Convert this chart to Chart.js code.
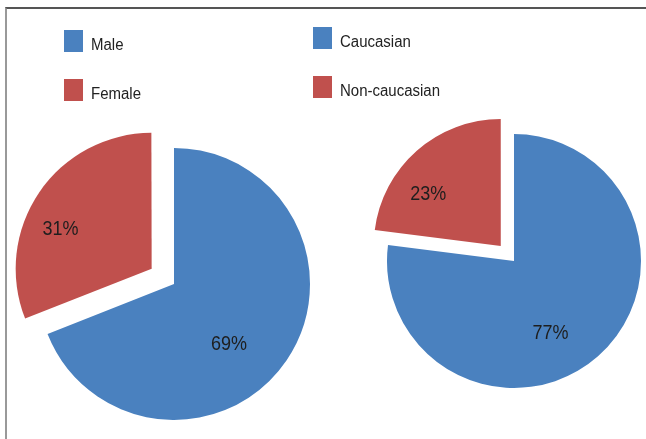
<!DOCTYPE html>
<html>
<head>
<meta charset="utf-8">
<script src="https://cdn.jsdelivr.net/npm/chart.js@4.4.1/dist/chart.umd.min.js"></script>
<style>
  body { margin: 0; background: #fff; }
  #wrap { position: relative; width: 646px; height: 439px; overflow: hidden; font-family: "Liberation Sans", Arial, sans-serif; }
  #frame { position: absolute; left: 5px; top: 7px; width: 660px; height: 460px; border-top: 2px solid #555; border-left: 2px solid #999; }
  canvas { position: absolute; left: 0; top: 0; }
  .leg { position: absolute; font-size: 15px; color: #222; }
  .leg .box { position: absolute; width: 19px; height: 22px; }
  .leg .txt { position: absolute; left: 27px; top: 6px; white-space: nowrap; transform: scaleY(1.15); transform-origin: left bottom; }
</style>
</head>
<body>
<div id="wrap">
  <div id="frame"></div>
  <canvas id="pie1" width="646" height="439"></canvas>
  <canvas id="pie2" width="646" height="439"></canvas>
</div>
<script>
var genderLabels = ['Male', 'Female'];
var genderValues = [69, 31];
var raceLabels = ['Caucasian', 'Non-caucasian'];
var raceValues = [77, 23];
var colors = ['#4A81BF', '#C0504D'];

// draws the % labels, and keeps exploded slices at the same radius
var pctLabels = {
	id: 'pctLabels',
	beforeDatasetsDraw: function(chart) {
		var meta = chart.getDatasetMeta(0);
		var R = chart.options.radius;
		meta.data.forEach(function(arc, i) {
			var off = (chart.data.datasets[0].offset[i] || 0) / 4;
			var fix = 1 - Math.sin(Math.min(Math.PI, arc.circumference));
			arc.outerRadius = R - off * fix;
		});
	},
	afterDatasetsDraw: function(chart) {
		var ctx = chart.ctx;
		var meta = chart.getDatasetMeta(0);
		var ds = chart.data.datasets[0];
		var R = chart.options.radius;
		var total = ds.data.reduce(function(a, b) { return a + b; }, 0);
		ctx.save();
		ctx.font = '18px "Liberation Sans", Arial, sans-serif';
		ctx.fillStyle = '#1e1e1e';
		ctx.textAlign = 'right';
		ctx.textBaseline = 'top';
		meta.data.forEach(function(arc, i) {
			var mid = (arc.startAngle + arc.endAngle) / 2;
			var shift = (ds.offset[i] || 0) / 4;
			var cx = arc.x + Math.cos(mid) * shift;
			var cy = arc.y + Math.sin(mid) * shift;
			var k = 0.65 * R;
			var pct = Math.round(ds.data[i] / total * 100) + '%';
			var x = cx + Math.cos(mid) * k, y = cy + Math.sin(mid) * k;
			ctx.save();
			ctx.translate(x, y);
			ctx.scale(1, 1.15);
			ctx.fillText(pct, 0, 0);
			ctx.restore();
		});
		ctx.restore();
	}
};

function makePie(id, labels, values, explode, radius, pad) {
	new Chart(document.getElementById(id), {
		type: 'pie',
		data: {
			labels: labels,
			datasets: [{
				data: values,
				backgroundColor: colors,
				borderWidth: 0,
				offset: [0, explode]
			}]
		},
		options: {
			responsive: false,
			animation: false,
			radius: radius,
			layout: { padding: pad },
			plugins: { legend: { display: false }, tooltip: { enabled: false } },
			events: []
		},
		plugins: [pctLabels]
	});
}

makePie('pie1', genderLabels, genderValues, 108, 136, { left: 0, right: 298, top: 129, bottom: 0 });
makePie('pie2', raceLabels, raceValues, 80, 127, { left: 382, right: 0, top: 83, bottom: 0 });

// legends
function makeLegend(labels, left, top) {
	var wrap = document.getElementById('wrap');
	labels.forEach(function(l, i) {
		var d = document.createElement('div');
		d.className = 'leg';
		d.style.left = left + 'px';
		d.style.top = (top + i * 49) + 'px';
		d.innerHTML = '<div class="box" style="background:' + colors[i] + '"></div><div class="txt">' + l + '</div>';
		wrap.appendChild(d);
	});
}
makeLegend(genderLabels, 64, 30);
makeLegend(raceLabels, 313, 27);
</script>
</body>
</html>
